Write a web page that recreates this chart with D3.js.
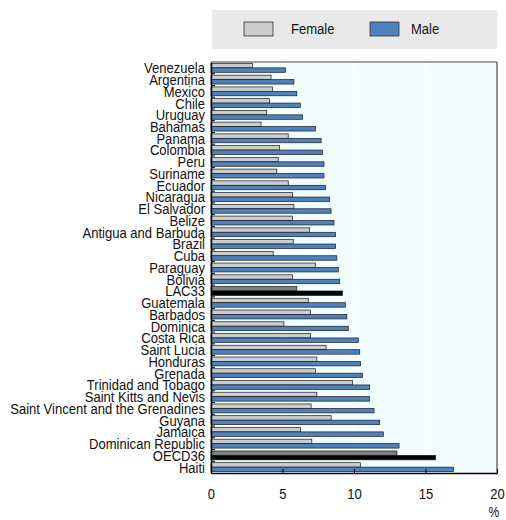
<!DOCTYPE html>
<html><head><meta charset="utf-8">
<script src="https://cdn.jsdelivr.net/npm/d3@7"></script>
<style>body{margin:0;background:#fff}</style>
</head><body>
<svg id="c" width="506" height="520"></svg>
<script>
const categories = ["Venezuela","Argentina","Mexico","Chile","Uruguay","Bahamas","Panama","Colombia","Peru","Suriname","Ecuador","Nicaragua","El Salvador","Belize","Antigua and Barbuda","Brazil","Cuba","Paraguay","Bolivia","LAC33","Guatemala","Barbados","Dominica","Costa Rica","Saint Lucia","Honduras","Grenada","Trinidad and Tobago","Saint Kitts and Nevis","Saint Vincent and the Grenadines","Guyana","Jamaica","Dominican Republic","OECD36","Haiti"];
const female = [2.9,4.2,4.3,4.1,3.9,3.5,5.4,4.8,4.7,4.6,5.4,5.7,5.8,5.7,6.9,5.75,4.35,7.3,5.7,6.0,6.8,6.95,5.1,6.95,8.05,7.4,7.3,9.9,7.4,7.0,8.4,6.25,7.05,13.0,10.45];
const male = [5.2,5.8,6.0,6.25,6.4,7.3,7.7,7.8,7.9,7.9,8.0,8.3,8.4,8.6,8.7,8.7,8.8,8.9,9.0,9.2,9.4,9.5,9.6,10.3,10.4,10.45,10.6,11.1,11.1,11.4,11.8,12.05,13.15,15.7,16.95];
const highlight = ["LAC33","OECD36"];
const xTicks = [0,5,10,15,20];
const seriesNames = ["Female","Male"];

const svg = d3.select("#c");
const L = 211, R = 497, T = 62, B = 473;
const x = d3.scaleLinear().domain([0,20]).range([L,R]);
const y = d3.scaleBand().domain(categories).range([T,B]);
const sub = d3.scaleBand().domain(seriesNames).range([0,y.bandwidth()]).paddingOuter(0.32).paddingInner(0);
const font = "'Liberation Sans', Arial, sans-serif";
const sx = 0.87;

// legend
svg.append("rect").attr("x",212).attr("y",10).attr("width",285).attr("height",39).attr("fill","#e9e9e9");
const legItems = [{n:"Female",c:"#cccccc",sx:244,tx:291},{n:"Male",c:"#4f81bd",sx:370,tx:411}];
legItems.forEach(d=>{
  svg.append("rect").attr("x",d.sx).attr("y",22).attr("width",29).attr("height",14).attr("fill",d.c).attr("stroke","#333").attr("stroke-width",0.8);
  svg.append("text").attr("transform",`translate(${d.tx},34) scale(${sx},1)`).attr("font-family",font).attr("font-size",15).attr("fill","#111").text(d.n);
});

// plot bg
svg.append("rect").attr("x",L).attr("y",T).attr("width",R-L).attr("height",B-T).attr("fill","#f2fefe");
// grid
svg.append("g").selectAll("line").data(xTicks.slice(1,-1)).join("line")
  .attr("x1",d=>x(d)).attr("x2",d=>x(d)).attr("y1",T).attr("y2",B).attr("stroke","#ffffff").attr("stroke-width",1.2);

// bars
const g = svg.append("g");
categories.forEach((c,i)=>{
  const hl = highlight.includes(c);
  [["Female",female[i], hl?"#7f7f7f":"#cccccc"],["Male",male[i], hl?"#000000":"#4f81bd"]].forEach(([s,v,col])=>{
    g.append("rect").attr("x",x(0)).attr("y",y(c)+sub(s)).attr("width",x(v)-x(0)).attr("height",sub.bandwidth())
      .attr("fill",col).attr("stroke","#1a1a1a").attr("stroke-width",0.7);
  });
});

// border
svg.append("line").attr("x1",L).attr("x2",R).attr("y1",T).attr("y2",T).attr("stroke","#444").attr("stroke-width",1.2);
svg.append("line").attr("x1",R).attr("x2",R).attr("y1",T).attr("y2",B).attr("stroke","#444").attr("stroke-width",1.2);

// y axis
const yAxis = d3.axisLeft(y).tickSize(0).tickPadding(6);
const ya = svg.append("g").attr("transform",`translate(${L},0)`).call(yAxis);
ya.select(".domain").attr("stroke","#000").attr("stroke-width",1.5);
ya.selectAll(".tick text").attr("font-family",font).attr("font-size",15).attr("fill","#111")
  .attr("x",0).attr("dy","0.36em")
  .attr("transform",`translate(-6,0) scale(${sx},1)`);
// inner ticks at band boundaries
svg.append("g").selectAll("line").data(categories.slice(1)).join("line")
  .attr("x1",L).attr("x2",L+4).attr("y1",d=>y(d)).attr("y2",d=>y(d)).attr("stroke","#000").attr("stroke-width",1);

// x axis
const xa = svg.append("g").attr("transform",`translate(0,${B})`).call(d3.axisBottom(x).tickValues(xTicks).tickSize(-4).tickSizeOuter(0).tickPadding(0).tickFormat(d3.format("d")));
xa.select(".domain").attr("stroke","#000").attr("stroke-width",1.5);
xa.selectAll(".tick line").attr("stroke","#000");
xa.selectAll(".tick text").attr("font-family",font).attr("font-size",15).attr("fill","#111").attr("y",0).attr("dy",0)
  .attr("transform",`translate(0,26) scale(${sx},1)`);
svg.append("text").attr("transform",`translate(494,517) scale(${sx},1)`).attr("text-anchor","middle").attr("font-family",font).attr("font-size",14).attr("fill","#111").text("%");
</script>
</body></html>
